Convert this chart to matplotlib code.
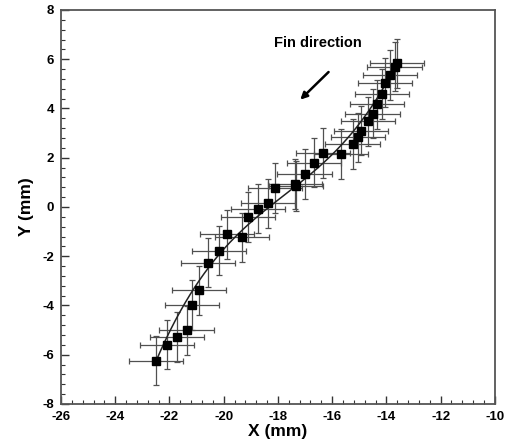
import numpy as np
import matplotlib
matplotlib.use("Agg")
import matplotlib.pyplot as plt
from matplotlib.ticker import MultipleLocator

plt.rcParams['font.family'] = ['Liberation Sans', 'DejaVu Sans']
plt.rcParams['font.weight'] = 'bold'
plt.rcParams['axes.unicode_minus'] = False

# fin tip positions (mm)
x_pos = [-22.50, -22.10, -21.73, -21.37, -21.18, -20.92, -20.57, -20.16,
         -19.88, -19.33, -19.11, -18.74, -18.37, -18.12, -17.37, -17.32,
         -17.02, -16.66, -16.33, -15.67, -15.25, -15.05, -14.93, -14.68,
         -14.51, -14.34, -14.17, -14.04, -13.87, -13.70, -13.62]
y_pos = [-6.24, -5.59, -5.28, -5.01, -3.98, -3.39, -2.26, -1.77,
         -1.11, -1.23, -0.41, -0.07, 0.15, 0.77, 0.93, 0.85,
         1.34, 1.80, 2.19, 2.15, 2.56, 2.83, 3.10, 3.48,
         3.79, 4.17, 4.59, 5.05, 5.36, 5.69, 5.84]
x_err = [1.0] * len(x_pos)
y_err = [1.0] * len(y_pos)

fig = plt.figure(figsize=(5.06, 4.44), dpi=100)
ax = fig.add_axes([0.1206, 0.0901, 0.8574, 0.8874])

ax.errorbar(x_pos, y_pos, xerr=x_err, yerr=y_err, fmt='none',
            ecolor='#505050', elinewidth=0.9, capsize=2.5, capthick=0.9, zorder=2)

# smooth fit y = f(x), pinned near the end points
w = np.ones(len(x_pos))
w[0] = w[-1] = 8
coef = np.polyfit(x_pos, y_pos, 3, w=w)
xx = np.linspace(min(x_pos), max(x_pos), 200)
ax.plot(xx, np.polyval(coef, xx), color='#222222', lw=1.1, zorder=3)

ax.plot(x_pos, y_pos, 's', color='black', markersize=5.5, zorder=4)

ax.annotate('', xy=(-17.25, 4.28), xytext=(-16.06, 5.56),
            arrowprops=dict(arrowstyle='-|>', color='black', lw=1.8,
                            mutation_scale=10))
ax.text(-16.53, 6.66, 'Fin direction', fontsize=10.5, fontweight='bold',
        ha='center', va='center')

ax.set_xlim(-26, -10)
ax.set_ylim(-8, 8)
ax.xaxis.set_major_locator(MultipleLocator(2))
ax.xaxis.set_minor_locator(MultipleLocator(0.4))
ax.yaxis.set_major_locator(MultipleLocator(2))
ax.yaxis.set_minor_locator(MultipleLocator(0.4))
ax.tick_params(which='both', direction='in', top=False, right=False,
               labelsize=9.5, colors='#333333', labelcolor='black')
ax.tick_params(which='major', length=6, width=1.0, pad=5)
ax.tick_params(which='minor', length=3, width=0.8)
for sp in ax.spines.values():
    sp.set_linewidth(1.3)
    sp.set_color('#555555')

ax.set_xlabel('X (mm)', fontsize=12.5, fontweight='bold', labelpad=1)
ax.set_ylabel('Y (mm)', fontsize=12.5, fontweight='bold', labelpad=6)

fig.savefig('out.png', dpi=100)
